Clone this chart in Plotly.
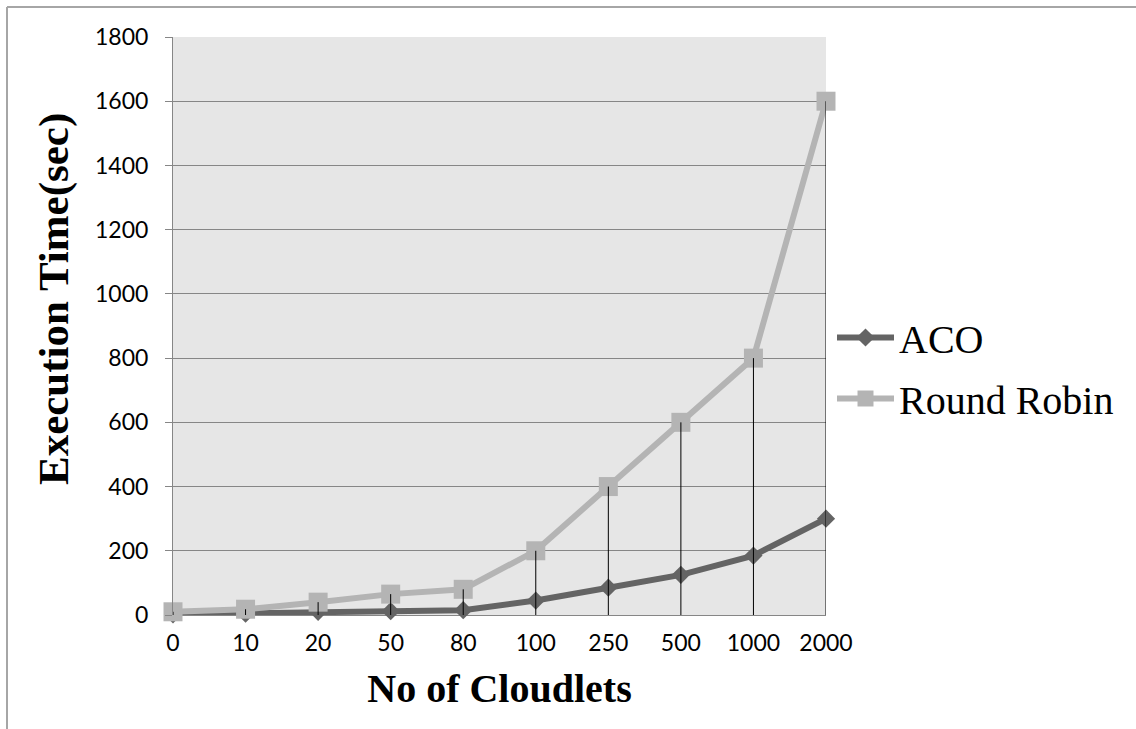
import plotly.graph_objects as go

# Number of cloudlets (category labels) and execution times in seconds
cloudlets = ["0", "10", "20", "50", "80", "100", "250", "500", "1000", "2000"]
aco_time = [2, 4, 10, 12, 15, 45, 85, 125, 185, 300]
rr_time = [10, 18, 40, 65, 80, 200, 400, 600, 800, 1600]
y_ticks = [0, 200, 400, 600, 800, 1000, 1200, 1400, 1600, 1800]

W, H = 1136, 729
L, R, T, B = 173, 826, 37, 615

pos = list(range(len(cloudlets)))

# Drop lines from each Round Robin point down to the category axis
drop_x, drop_y = [], []
for p, v in zip(pos, rr_time):
    drop_x += [p, p, None]
    drop_y += [v, 0, None]

fig = go.Figure()
fig.add_trace(go.Scatter(
    x=pos, y=aco_time, name="ACO", mode="lines+markers",
    line=dict(color="#646464", width=6),
    marker=dict(symbol="diamond", size=14, color="#646464"),
    cliponaxis=False, legendgroup="aco",
))
fig.add_trace(go.Scatter(
    x=pos, y=rr_time, name="Round Robin", mode="lines+markers",
    line=dict(color="#b4b4b4", width=6),
    marker=dict(symbol="square", size=19, color="#b4b4b4"),
    cliponaxis=False, legendgroup="rr",
))
fig.add_trace(go.Scatter(
    x=drop_x, y=drop_y, mode="lines", showlegend=False, hoverinfo="skip",
    line=dict(color="#000000", width=1), cliponaxis=False,
))

def px_x(px):
    return (px - L) / (R - L)

def px_y(py):
    return (B - py) / (B - T)

# Outer chart frame (top and left edges)
fig.add_shape(type="line", xref="paper", yref="paper",
              x0=px_x(7), y0=px_y(729), x1=px_x(7), y1=px_y(7),
              line=dict(color="#a6a6a6", width=2))
fig.add_shape(type="line", xref="paper", yref="paper",
              x0=px_x(7), y0=px_y(7), x1=px_x(1136), y1=px_y(7),
              line=dict(color="#a6a6a6", width=2))

# Vertical value-axis title
fig.add_annotation(
    text="<b>Execution Time(sec)</b>", textangle=-90,
    xref="paper", yref="paper", x=px_x(54), y=px_y(299),
    xanchor="center", yanchor="middle", showarrow=False,
    font=dict(family="Liberation Serif", size=43, color="black"),
)

fig.update_layout(
    width=W, height=H,
    margin=dict(l=L, r=W - R, t=T, b=H - B, pad=0),
    paper_bgcolor="white",
    plot_bgcolor="#e6e6e6",
    font=dict(family="Lato", color="black"),
    showlegend=True,
    legend=dict(
        x=px_x(832), y=px_y(305), xanchor="left", yanchor="top",
        font=dict(family="Liberation Serif", size=40, color="black"),
        itemwidth=57, tracegroupgap=6, bgcolor="rgba(0,0,0,0)",
    ),
    xaxis=dict(
        range=[0, len(cloudlets) - 1],
        tickmode="array", tickvals=pos, ticktext=cloudlets,
        tickfont=dict(family="Lato", size=23, color="black"),
        showgrid=False, zeroline=False, showline=False, ticks="",
        ticklabelstandoff=12,
        title=dict(text="<b>No of Cloudlets</b>",
                   font=dict(family="Liberation Serif", size=40, color="black"),
                   standoff=18),
    ),
    yaxis=dict(
        range=[0, 1800],
        tickmode="array", tickvals=y_ticks,
        tickfont=dict(family="Lato", size=23, color="black"),
        showgrid=True, gridcolor="#868686", gridwidth=1,
        zeroline=True, zerolinecolor="#868686", zerolinewidth=1,
        showline=True, linecolor="#868686", linewidth=1,
        ticks="outside", ticklen=7, tickcolor="#868686",
        ticklabelstandoff=12,
    ),
)

fig.write_html("out.html")
